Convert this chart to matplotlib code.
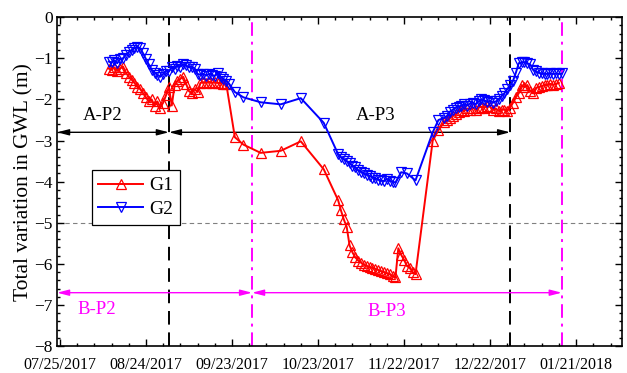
import datetime as dt
import matplotlib
matplotlib.use('Agg')
import matplotlib.pyplot as plt
import matplotlib.dates as mdates
from matplotlib.ticker import FixedLocator, MultipleLocator

plt.rcParams['font.family'] = 'Liberation Serif'

START = dt.date(2017, 7, 25)

# groundwater level change, days counted from 07/25/2017
g1_days = [17, 18, 19, 20, 21, 22, 23, 24, 25, 26, 27, 28, 29, 30, 31, 32, 33, 34, 35, 36,
           37, 38, 39, 40, 41, 42, 43, 44, 45, 46, 47, 48, 49, 50, 51, 52, 53, 54, 55, 56,
           57, 58, 61, 64, 70, 77, 84, 92, 97, 98, 99, 100, 101, 102, 103, 104, 105, 106,
           107, 108, 109, 110, 111, 112, 113, 114, 115, 116, 117, 118, 119, 120, 121, 122,
           123, 124, 130, 132, 134, 135, 136, 137, 138, 139, 140, 141, 142, 143, 144, 145,
           146, 147, 148, 149, 150, 151, 152, 153, 154, 155, 156, 157, 158, 159, 160, 161,
           162, 163, 164, 165, 166, 167, 168, 169, 170, 171, 172, 173, 174]
g1_vals = [-1.25, -1.28, -1.22, -1.30, -1.25, -1.20, -1.35, -1.45, -1.52, -1.60, -1.70, -1.75,
           -1.85, -1.95, -2.05, -2.00, -2.15, -2.05, -2.20, -2.08, -1.90, -1.70, -2.15, -1.65,
           -1.55, -1.50, -1.45, -1.62, -1.80, -1.85, -1.75, -1.82, -1.60, -1.58, -1.60, -1.57,
           -1.60, -1.58, -1.60, -1.60, -1.62, -1.62, -2.92, -3.10, -3.30, -3.25, -3.02, -3.70,
           -4.45, -4.70, -4.92, -5.10, -5.55, -5.72, -5.84, -5.92, -5.97, -6.02, -6.05, -6.08,
           -6.10, -6.12, -6.15, -6.18, -6.20, -6.23, -6.25, -6.30, -6.33, -5.62, -5.78, -5.90,
           -6.05, -6.10, -6.20, -6.25, -3.00, -2.75, -2.55, -2.50, -2.45, -2.40, -2.35, -2.30,
           -2.25, -2.28, -2.22, -2.25, -2.20, -2.25, -2.20, -2.18, -2.20, -2.15, -2.18, -2.25,
           -2.22, -2.28, -2.25, -2.25, -2.28, -2.20, -2.08, -1.95, -1.85, -1.65, -1.70, -1.65,
           -1.80, -1.85, -1.72, -1.70, -1.68, -1.65, -1.65, -1.62, -1.65, -1.62, -1.60]

g2_days = [17, 18, 19, 20, 21, 22, 23, 24, 25, 26, 27, 28, 29, 30, 31, 32, 33, 34, 35, 36,
           37, 38, 39, 40, 41, 42, 43, 44, 45, 46, 47, 48, 49, 50, 51, 52, 53, 54, 55, 56,
           57, 58, 59, 61, 64, 70, 77, 84, 92, 97, 98, 99, 100, 101, 102, 103, 104, 105, 106,
           107, 108, 109, 110, 111, 112, 113, 114, 115, 116, 117, 119, 121, 124, 130, 132,
           134, 135, 136, 137, 138, 139, 140, 141, 142, 143, 144, 145, 146, 147, 148, 149,
           150, 151, 152, 153, 154, 155, 156, 157, 158, 159, 160, 161, 162, 163, 164, 165,
           166, 167, 168, 169, 170, 171, 172, 173, 174, 175]
g2_vals = [-1.08, -1.10, -1.05, -1.12, -1.02, -1.00, -0.92, -0.85, -0.80, -0.75, -0.72, -0.76,
           -0.88, -1.02, -1.15, -1.28, -1.35, -1.40, -1.45, -1.38, -1.30, -1.32, -1.22, -1.25,
           -1.18, -1.20, -1.15, -1.17, -1.22, -1.20, -1.25, -1.38, -1.40, -1.38, -1.42, -1.38,
           -1.40, -1.43, -1.35, -1.45, -1.50, -1.55, -1.62, -1.82, -1.95, -2.07, -2.12, -1.97,
           -2.57, -3.33, -3.40, -3.45, -3.50, -3.55, -3.62, -3.65, -3.72, -3.76, -3.80, -3.83,
           -3.86, -3.90, -3.92, -3.95, -3.97, -3.99, -3.93, -3.98, -4.00, -4.02, -3.77, -3.80,
           -3.97, -2.80, -2.50, -2.45, -2.40, -2.30, -2.25, -2.20, -2.18, -2.15, -2.12, -2.15,
           -2.10, -2.08, -2.12, -2.05, -2.00, -2.02, -2.06, -2.03, -2.08, -2.05, -2.00, -1.92,
           -1.85, -1.75, -1.65, -1.55, -1.35, -1.12, -1.10, -1.10, -1.12, -1.15, -1.28, -1.32,
           -1.35, -1.37, -1.38, -1.38, -1.37, -1.38, -1.37, -1.38, -1.37]

# stage boundaries and labels
a_bounds = [38.2, 157.9]
b_bounds = [67.2, 175.0]
a_labels = ['A-P2', 'A-P3']
b_labels = ['B-P2', 'B-P3']


def to_dates(days):
    return [START + dt.timedelta(days=float(d)) for d in days]


fig = plt.figure(figsize=(6.27, 3.73), dpi=100)
ax = fig.add_axes([0.091, 0.072, 0.901, 0.882])

x_lo = mdates.date2num(START - dt.timedelta(days=1.75))
x_hi = mdates.date2num(START + dt.timedelta(days=196))

ax.axhline(-5, color='#808080', lw=0.8, dashes=(4, 3), zorder=1)
for d in a_bounds:
    ax.axvline(to_dates([d])[0], color='black', lw=1.4, dashes=(7, 4), zorder=1)
for d in b_bounds:
    ax.axvline(to_dates([d])[0], color='#FF00FF', lw=1.4, dashes=(7, 3, 1.5, 3), zorder=1)

ax.plot(to_dates(g1_days), g1_vals, color='red', lw=1.4, marker='^', ms=7.5,
        mfc='none', mec='red', mew=0.9, label='G1', zorder=3)
ax.plot(to_dates(g2_days), g2_vals, color='blue', lw=1.4, marker='v', ms=7.5,
        mfc='none', mec='blue', mew=0.9, label='G2', zorder=3)

# stage arrows
arrow_kw = dict(arrowstyle='<|-|>,head_length=0.7,head_width=0.18', shrinkA=0, shrinkB=0, lw=1)
a_edges = [x_lo] + [mdates.date2num(to_dates([d])[0]) for d in a_bounds]
b_edges = [x_lo] + [mdates.date2num(to_dates([d])[0]) for d in b_bounds]
for i in range(2):
    ax.annotate('', xy=(a_edges[i + 1], -2.8), xytext=(a_edges[i], -2.8),
                arrowprops=dict(color='black', **arrow_kw), zorder=2)
    ax.annotate('', xy=(b_edges[i + 1], -6.7), xytext=(b_edges[i], -6.7),
                arrowprops=dict(color='#FF00FF', **arrow_kw), zorder=2)

ax.text(to_dates([15.5])[0], -2.4, a_labels[0], fontsize=13.5, ha='center', va='center')
ax.text(to_dates([110.6])[0], -2.4, a_labels[1], fontsize=13.5, ha='center', va='center')
ax.text(to_dates([13.3])[0], -7.1, b_labels[0], fontsize=13.5, ha='center', va='center', color='#FF00FF')
ax.text(to_dates([114.8])[0], -7.15, b_labels[1], fontsize=13.5, ha='center', va='center', color='#FF00FF')

ax.set_xlim(x_lo, x_hi)
ax.set_ylim(-8, 0)

major = [START + dt.timedelta(days=30 * i) for i in range(7)]
minor = [START + dt.timedelta(days=6 * i) for i in range(33)]
ax.xaxis.set_major_locator(FixedLocator(mdates.date2num(major)))
ax.xaxis.set_minor_locator(FixedLocator(mdates.date2num(minor)))
ax.xaxis.set_major_formatter(mdates.DateFormatter('%m/%d/%Y'))
ax.yaxis.set_major_locator(MultipleLocator(1))
ax.yaxis.set_minor_locator(MultipleLocator(0.2))

ax.tick_params(which='both', direction='in', top=True, right=True, width=1)
ax.tick_params(which='major', length=5, labelsize=11.5)
ax.tick_params(axis='x', which='major', pad=8)
ax.tick_params(axis='y', which='major', labelsize=12.5, pad=3)
ax.tick_params(which='minor', length=2.5)
for s in ax.spines.values():
    s.set_linewidth(1.2)

ax.set_ylabel('Total variation in GWL (m)', fontsize=15.5, labelpad=1)

leg = ax.legend(loc='upper left', bbox_to_anchor=(0.044, 0.565), fontsize=14,
                handlelength=2.3, handletextpad=0.3, borderpad=0.35, labelspacing=0.3,
                fancybox=False, framealpha=1, edgecolor='black')
leg.get_frame().set_linewidth(0.9)

fig.savefig('out.png', dpi=100)
